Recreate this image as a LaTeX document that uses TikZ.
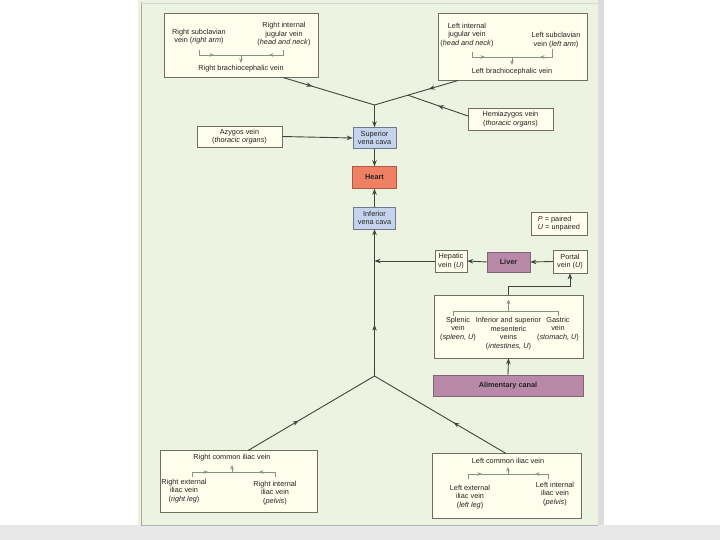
\documentclass[tikz,border=0pt]{standalone}
\usepackage{fontspec}
\setmainfont{Liberation Sans}
\usetikzlibrary{arrows.meta,decorations.markings,calc,shadows}
\definecolor{panelbg}{RGB}{236,243,225}
\definecolor{cream}{RGB}{255,253,236}
\definecolor{boxline}{RGB}{110,110,100}
\definecolor{bluefill}{RGB}{197,212,236}
\definecolor{blueline}{RGB}{110,120,150}
\definecolor{heartfill}{RGB}{240,128,100}
\definecolor{heartline}{RGB}{170,90,70}
\definecolor{purpfill}{RGB}{184,138,168}
\definecolor{purpline}{RGB}{130,100,120}
\definecolor{conn}{RGB}{60,70,60}
\definecolor{brkcol}{RGB}{130,150,130}
\definecolor{txt}{RGB}{35,35,35}
\definecolor{greystrip}{RGB}{232,232,232}
\newcommand\dfont{\fontsize{7.3}{8.6}\selectfont}
\begin{document}
\begin{tikzpicture}[x=1pt,y=-1pt,
  box/.style={draw=boxline,fill=cream,line width=0.5pt,inner sep=0pt,align=center,font=\dfont,text=txt,
    drop shadow={shadow xshift=0.8pt,shadow yshift=-0.8pt,opacity=0.35}},
  bluebox/.style={box,fill=bluefill,draw=blueline},
  heartbox/.style={box,fill=heartfill,draw=heartline},
  purpbox/.style={box,fill=purpfill,draw=purpline},
  tn/.style={inner sep=0pt,align=center,font=\dfont,text=txt},
  cn/.style={draw=conn,line width=0.9pt},
  tip/.style={-{Stealth[length=6pt,width=4.5pt]}},
  brk/.style={draw=brkcol,line width=0.7pt},
  btip/.style={-{Stealth[length=4.5pt,width=3.6pt]}},
  midarrow/.style={postaction={decorate},decoration={markings,
    mark=at position #1 with {\arrow{Stealth[length=6pt,width=4.5pt]}}}}
]
\useasboundingbox (0,0) rectangle (720,540);
% background
\fill[white] (0,0) rectangle (720,540);
\fill[greystrip] (0,525) rectangle (720,540);
\fill[panelbg] (138,0) rectangle (598,525);
\fill[greystrip!95!black] (598,0) rectangle (604,525);
\draw[gray!70,line width=0.6pt] (141,2) -- (141,525);
\draw[gray!60,line width=0.5pt] (141,525) -- (598,525);
\draw[gray!30,line width=0.5pt] (141,3) -- (598,3);

% top left box
\node[box,minimum width=154pt,minimum height=64pt] (rbox) at (241,45) {};
\node[tn] (rsubT) at (199,36.5) {Right subclavian\\vein (\textit{right arm})};
\node[tn] (rijT) at (284,34.5) {Right internal\\jugular vein\\(\textit{head and neck})};
\node[tn] (rbcT) at (241,69) {Right brachiocephalic vein};
\draw[brk] (199,50) -- (199,55) -- (283,55) -- (283,50);
\draw[brk,btip] (199,55) -- (214,55);
\draw[brk,btip] (283,55) -- (269,55);
\draw[brk,btip] (241,55) -- (241,63);

% top right box
\node[box,minimum width=149pt,minimum height=67pt] (lbox) at (512.5,46.5) {};
\node[tn] (lijT) at (467,35) {Left internal\\jugular vein\\(\textit{head and neck})};
\node[tn] (lsubT) at (556,40) {Left subclavian\\vein (\textit{left arm})};
\node[tn] (lbcT) at (512,72) {Left brachiocephalic vein};
\draw[brk] (472,52) -- (472,57) -- (552,57) -- (552,49);
\draw[brk,btip] (472,57) -- (485,57);
\draw[brk,btip] (552,57) -- (540,57);
\draw[brk,btip] (512,57) -- (512,65);

% thoracic
\node[box,minimum width=85pt,minimum height=22pt] (hemi) at (510.5,119) {Hemiazygos vein\\(\textit{thoracic organs})};
\node[box,minimum width=85pt,minimum height=21pt] (azy) at (239.5,136.5) {Azygos vein\\(\textit{thoracic organs})};

% spine
\node[bluebox,minimum width=43pt,minimum height=21pt] (svc) at (374.5,138) {Superior\\vena cava};
\node[heartbox,minimum width=44pt,minimum height=22pt] (heart) at (374.5,177.5) {\textbf{Heart}};
\node[bluebox,minimum width=42pt,minimum height=22pt] (ivc) at (374.5,218) {Inferior\\vena cava};

% legend and liver row
\node[box,minimum width=56pt,minimum height=23pt,align=left] (leg) at (559,223.5) {\textit{P} = paired\\\textit{U} = unpaired};
\node[box,minimum width=32pt,minimum height=22pt] (hep) at (451,261) {Hepatic\\vein (\textit{U})};
\node[purpbox,minimum width=43pt,minimum height=20pt] (liver) at (508.5,262) {\textbf{Liver}};
\node[box,minimum width=34pt,minimum height=23pt] (portal) at (570,261.5) {Portal\\vein (\textit{U})};

% mesenteric
\node[box,minimum width=149pt,minimum height=63pt] (mes) at (508.5,326.5) {};
\node[tn] (splT) at (458,329) {Splenic\\vein\\(\textit{spleen, U})};
\node[tn] (imsT) at (508.5,333.5) {Inferior and superior\\mesenteric\\veins\\(\textit{intestines, U})};
\node[tn] (gasT) at (558,329) {Gastric\\vein\\(\textit{stomach, U})};
\draw[brk] (453,316) -- (453,311) -- (558,311) -- (558,316);
\draw[brk,btip] (508.5,311) -- (508.5,299.5);
\node[purpbox,minimum width=150pt,minimum height=21pt] (ali) at (508,385.5) {\textbf{Alimentary canal}};

% bottom left
\node[box,minimum width=157pt,minimum height=62pt] (rci) at (238.5,481) {};
\node[tn] (rciT) at (232,458) {Right common iliac vein};
\node[tn] (rextT) at (184,491) {Right external\\iliac vein\\(\textit{right leg})};
\node[tn] (rintT) at (275,493) {Right internal\\iliac vein\\(\textit{pelvis})};
\draw[brk] (192,477) -- (192,472) -- (275,472) -- (275,477);
\draw[brk,btip] (192,472) -- (208,472);
\draw[brk,btip] (275,472) -- (259,472);
\draw[brk,btip] (232,472) -- (232,465);

% bottom right
\node[box,minimum width=149pt,minimum height=65pt] (lci) at (506.5,485.5) {};
\node[tn] (lciT) at (508,461) {Left common iliac vein};
\node[tn] (lextT) at (470,497) {Left external\\iliac vein\\(\textit{left leg})};
\node[tn] (lintT) at (555,494) {Left internal\\iliac vein\\(\textit{pelvis})};
\draw[brk] (468,479) -- (468,474) -- (548,474) -- (548,479);
\draw[brk,btip] (468,474) -- (482,474);
\draw[brk,btip] (548,474) -- (535,474);
\draw[brk,btip] (508,474) -- (508,467);

% junction coordinates
\coordinate (jtop) at (374.5,105);
\coordinate (jbot) at (374.5,376);
\coordinate (rbS) at (283,77.5);
\coordinate (lbS) at (458,80.5);
\coordinate (jhemi) at ($(jtop)!0.4!(lbS)$);
\coordinate (hemiS) at (468,116);
\coordinate (rcS) at (248,450.5);
\coordinate (lcS) at (506,453.5);

% connectors
\draw[cn,midarrow=0.32] (rbS) -- (jtop);
\draw[cn,midarrow=0.35] (lbS) -- (jtop);
\draw[cn,midarrow=0.5] (hemiS) -- (jhemi);
\draw[cn,tip] (jtop) -- (svc.north);
\draw[cn,tip] (azy.east) -- (svc.west);
\draw[cn,tip] (svc.south) -- (heart.north);
\draw[cn,tip] (ivc.north) -- (heart.south);
\draw[cn,tip,midarrow=0.35] (jbot) -- (ivc.south);
\draw[cn,tip] (hep.west) -- (hep.west -| jbot);
\draw[cn,tip] (liver.west) -- (hep.east);
\draw[cn,tip] (portal.west) -- (liver.east);
\draw[cn,tip] (mes.north) -- ++(0,-8) -| (portal.south);
\draw[cn,tip] (ali.north) -- (mes.south);
\draw[cn,midarrow=0.4] (rcS) -- (jbot);
\draw[cn,midarrow=0.4] (lcS) -- (jbot);
\end{tikzpicture}
\end{document}
